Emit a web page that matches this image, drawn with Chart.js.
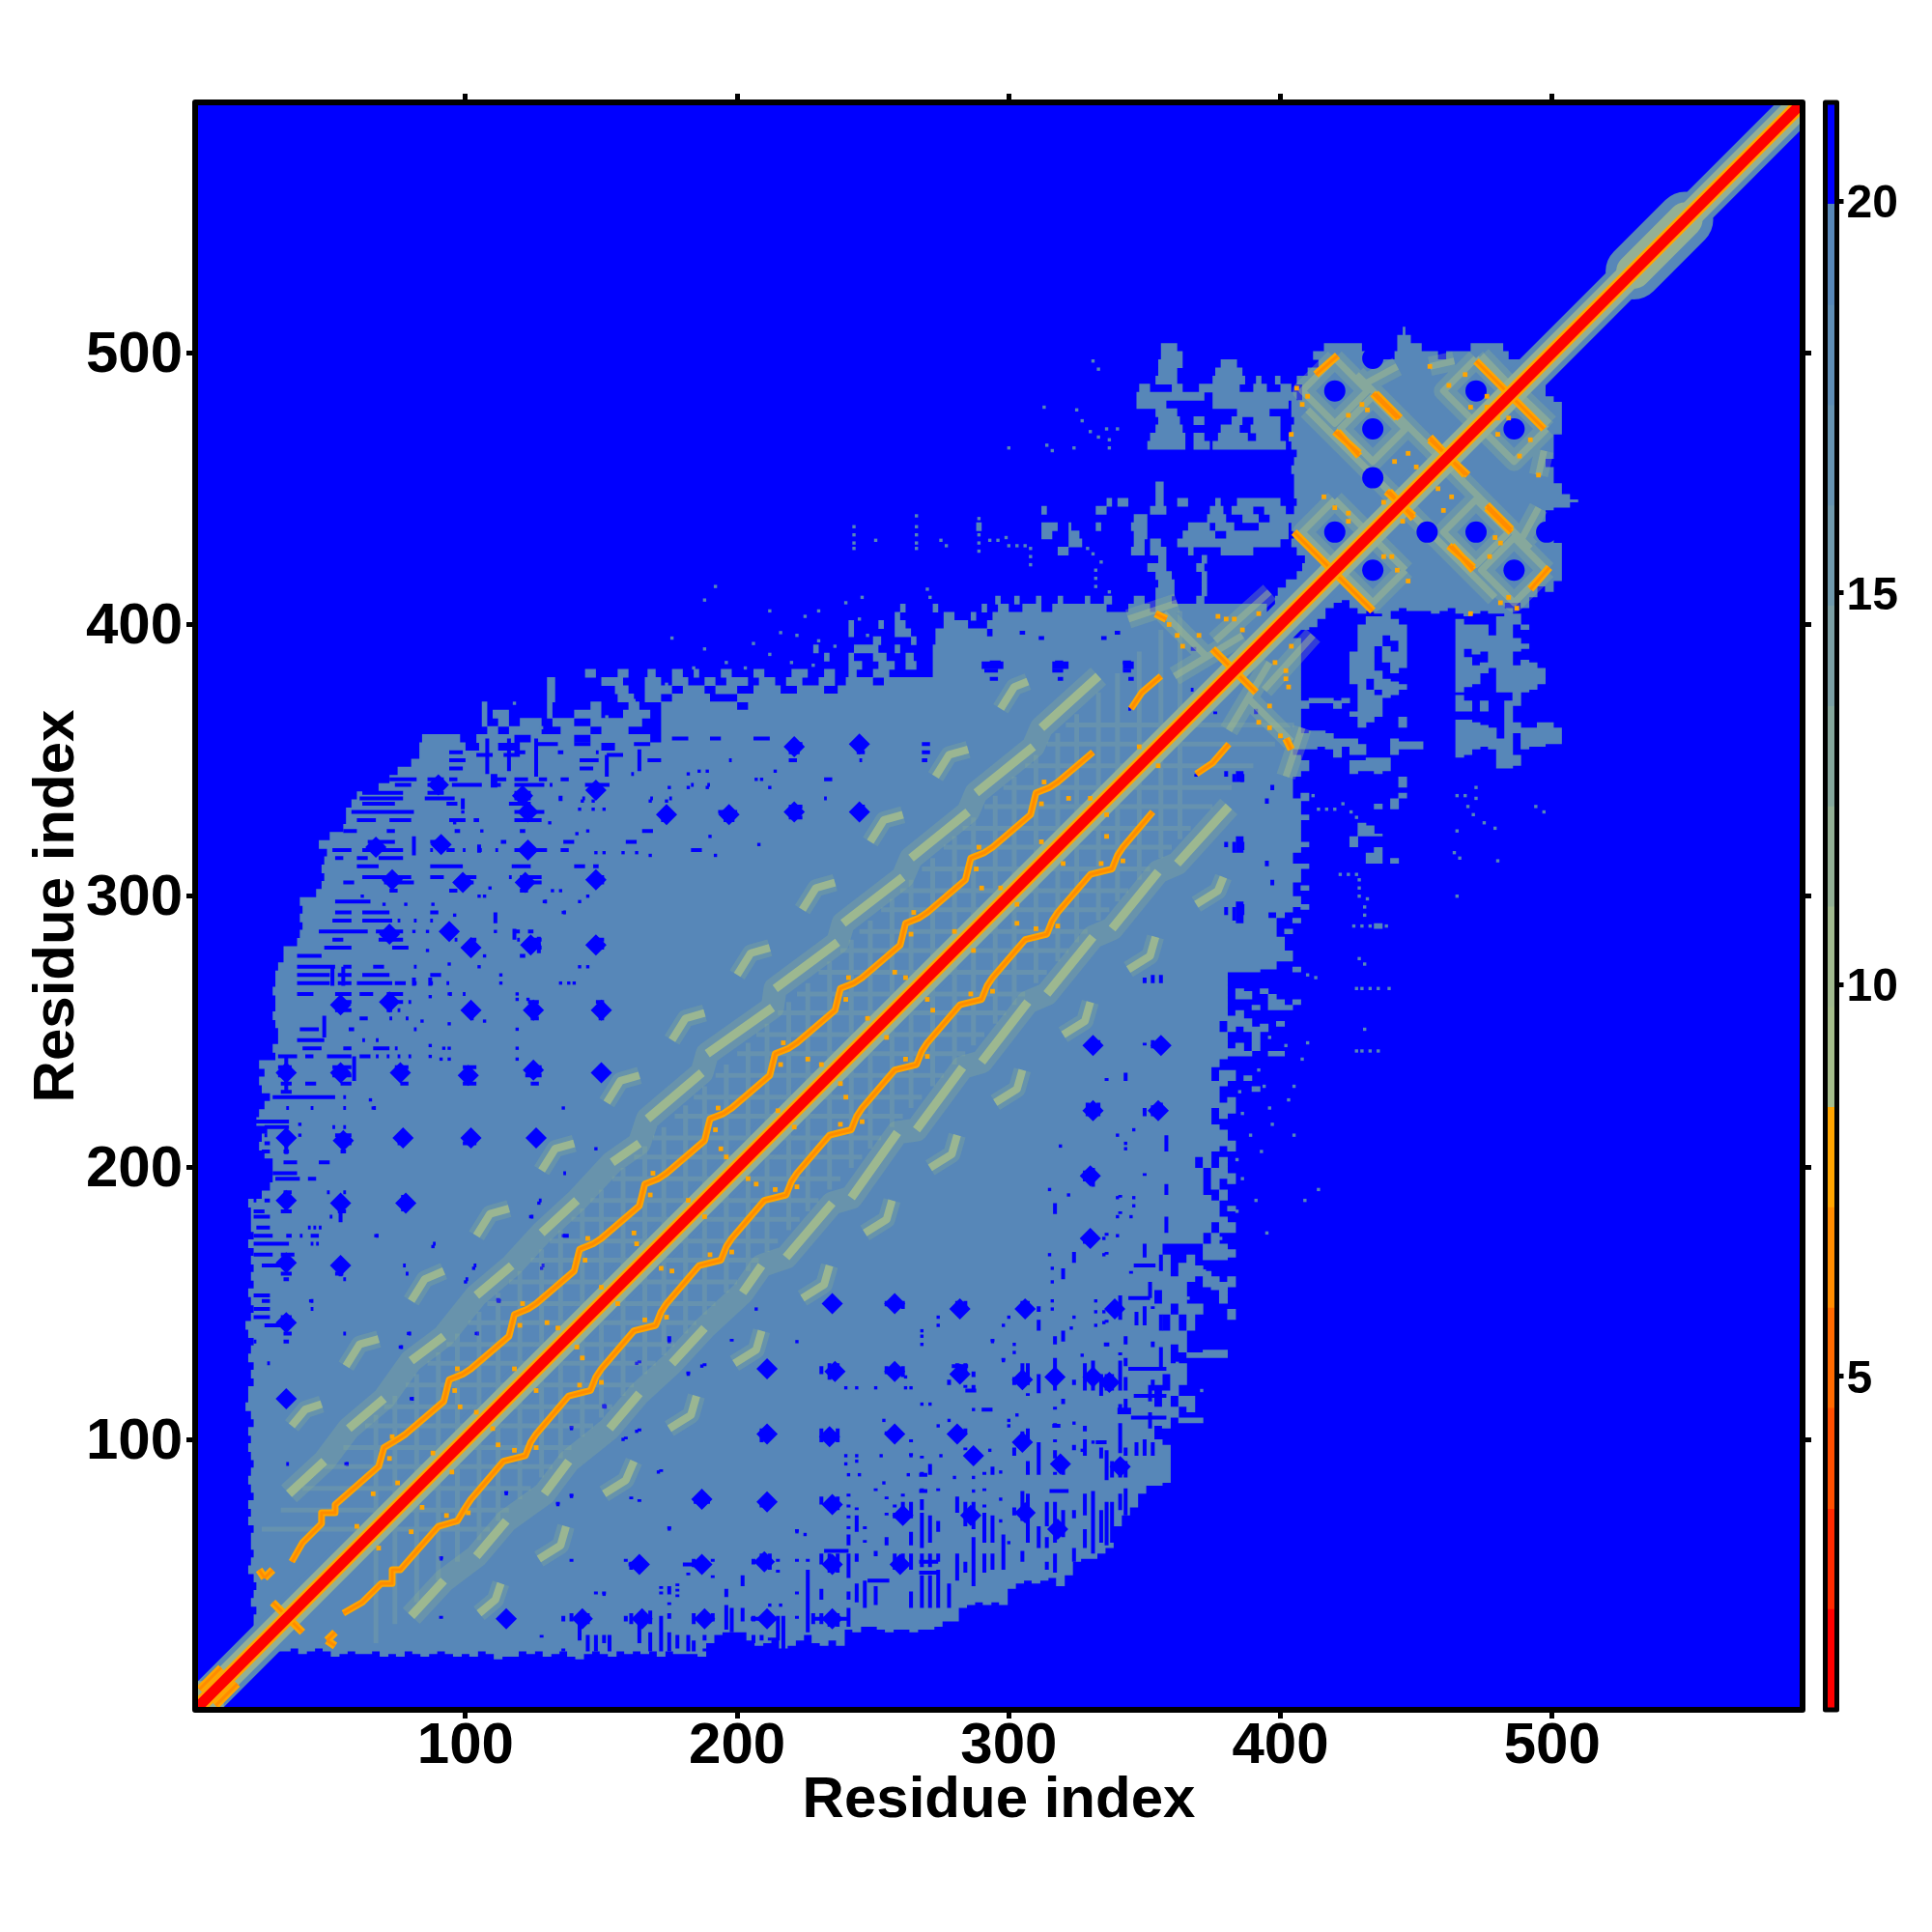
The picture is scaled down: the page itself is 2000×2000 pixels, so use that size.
<!DOCTYPE html>
<html>
<head>
<meta charset="utf-8">
<script src="https://cdn.jsdelivr.net/npm/chart.js@4"></script>
<style>
  html, body { margin: 0; padding: 0; background: #fff; }
  #wrap { position: relative; width: 2000px; height: 2000px; }
  #map { position: absolute; left: 0; top: 0; }
  #bar { position: absolute; left: 1880px; top: 0; }
</style>
</head>
<body>
<div id="wrap">
  <canvas id="map" width="2000" height="2000"></canvas>
  <canvas id="bar" width="120" height="2000"></canvas>
</div>
<script>
// ticks
const residueTicks = [100, 200, 300, 400, 500];
const levelTicks = [5, 10, 15, 20];

// colour key: distance levels
const levelBreaks = [0.74, 2.02, 3.30, 4.59, 5.87, 7.15, 8.43, 9.71, 10.99, 12.27, 13.55, 14.83, 16.11, 17.39, 18.67, 19.96, 21.26];
const levelColors = ["#ff0000", "#ff2a00", "#ff4f00", "#ff6a00", "#ff8c00", "#ffa500", "#a5bd8b", "#a1ba8f", "#93b095", "#85a79c",
    "#7b9fa4", "#6f99ac", "#6693b1", "#5e8db5", "#5787b8", "#0000ff"];

// main diagonal
const diagonal = [1, 100, 200, 300, 400, 500, 592];
// wider patch of the diagonal near the C terminus
const lensFrom = [530, 530], lensTo = [549, 549];
// block in the corner at the N terminus: [y, x1, x2]
const cornerRows = [[6, 2, 11]];

// steel rows, upper left half only (map is symmetric): [y, x1, x2, x1, x2 ...]
const steelRows = [
    [22,22,22],[25,22,25],[28,23,28],[31,22,31],[34,22,34],[37,23,37],[40,21,40],[43,22,43],[46,23,46],[49,22,49],
    [52,20,52],[55,21,55],[58,22,58],[61,21,61],[64,21,64],[67,22,67],[70,20,70],[73,21,73],[76,20,76],[79,22,79],
    [82,21,82],[85,20,85],[88,21,88],[91,22,91],[94,21,94],[97,20,97],[100,21,100],[103,20,103],[106,22,106],[109,21,109],
    [112,19,112],[115,20,115],[118,20,118],[121,22,121],[124,21,124],[127,22,127],[130,20,130],[133,21,133],[136,22,136],[139,20,139],
    [142,19,142],[145,21,145],[148,22,148],[151,21,151],[154,20,154],[157,22,157],[160,21,160],[163,22,163],[166,21,166],[169,22,169],
    [172,20,172],[175,22,175],[178,21,178],[181,21,181],[184,21,184],[187,20,187],[190,25,190],[193,28,193],[196,29,196],[199,29,199],
    [202,29,202],[205,26,205],[208,24,208],[211,25,211],[214,27,214],[217,23,217],[220,24,220],[223,26,223],[226,28,226],[229,25,229],
    [232,24,232],[235,26,235],[238,24,238],[241,30,241],[244,29,244],[247,31,247],[250,31,250],[253,30,253],[256,29,256],[259,30,259],
    [262,30,262],[265,29,265],[268,30,268],[271,30,271],[274,31,274],[277,33,277],[280,33,280],[283,38,283],[286,39,286],[289,40,289],
    [292,39,292],[295,40,295],[298,39,298],[301,45,301],[304,47,304],[307,48,307],[310,47,310],[313,48,313],[316,49,316],[319,46,319],
    [322,50,322],[325,55,325],[328,56,328],[331,56,331],[334,58,334],[337,60,337],[340,68,340],[343,72,343],[346,75,346],[349,80,349],
    [352,83,352],[355,83,100,105,112,120,150,155,355],
    [358,84,98,104,118,124,140,146,168,172,358],
    [361,108,112,116,128,135,146,150,160,172,361],
    [364,106,108,112,116,120,128,132,140,146,165,172,364],
    [367,106,108,110,116,130,132,140,150,158,168,172,367],
    [370,106,108,130,132,146,150,160,164,172,200,204,370],
    [373,130,133,156,162,166,172,176,190,200,373],
    [376,130,133,155,160,166,176,180,188,192,200,206,216,222,232,237,376],
    [379,130,133,150,158,166,172,176,182,188,192,196,204,208,214,218,224,230,236,240,250,254,379],
    [382,144,148,156,160,167,170,176,180,184,186,194,198,206,210,220,226,232,236,241,244,250,256,272,382],
    [385,241,246,252,258,262,266,272,290,298,316,322,342,346,385],
    [388,232,234,241,243,250,255,262,265,272,388],
    [391,228,230,243,252,258,260,272,391],
    [394,250,253,264,266,273,394],
    [397,241,243,258,264,273,292,294,397],
    [400,241,243,252,254,258,262,276,285,292,400],
    [403,258,260,276,280,286,288,294,403],
    [406,260,262,272,274,290,292,296,300,305,312,316,336,344,352,354,395,398,406],
    [409,295,297,302,304,310,312,318,320,328,330,335,338,346,350,354,360,369,372,398,409],
    [412,354,361,371,373,399,412],
    [415,355,361,371,373,402,415],
    [418,354,360,371,373,406,418],
    [421,351,358,369,372,408,421],
    [424,355,358,371,373,409,424],
    [427,318,322,345,350,352,358,366,368,378,390,406,427],
    [430,322,327,346,350,352,356,362,400,404,430],
    [433,312,316,322,326,346,351,364,376,380,403,405,433],
    [436,288,290,312,318,322,323,332,334,345,351,366,374,376,383,392,403,404,436],
    [439,346,351,373,380,386,392,396,405,405,439],
    [442,312,314,332,336,352,358,374,379,382,390,394,402,405,442],
    [445,336,338,340,344,354,357,362,366,376,378,384,400,406,445],
    [448,354,357,405,448],[451,354,357,405,451],[454,405,454],[457,404,457],[460,405,460],[463,406,463],
    [466,351,365,368,374,375,402,404,466],
    [469,352,365,368,372,377,388,391,400,403,469],
    [472,354,364,378,385,389,400,404,472],
    [475,355,363,368,372,382,386,390,400,405,475],
    [478,354,362,384,396,404,478],
    [481,347,358,375,403,404,481],
    [484,347,372,375,406,408,484],
    [487,348,352,360,364,370,385,390,395,400,404,408,487],
    [490,354,362,375,387,391,393,398,400,406,490],
    [493,355,362,376,386,410,493],
    [496,355,364,378,384,414,488,490,496],
    [499,356,364,412,435,442,458,461,484,492,499],
    [502,356,362,416,430,443,452,470,482,496,502],
    [505,443,448,500,505],
    [508,445,446]
];
// single steel cells out in the blue, x,y pairs
const steelSpecks = [331,497, 333,494, 313,480, 325,479, 327,475, 330,471, 333,469, 336,472, 340,472, 337,465, 337,468, 314,466, 316,464, 324,465, 300,465,
    243,436, 243,433, 243,430, 243,428, 266,440, 266,436, 266,433, 266,430, 266,428, 251,431, 275,431, 277,429, 289,439, 289,436, 289,433, 289,430, 289,427,
    293,431, 296,431, 299,432, 300,429, 303,429, 306,429, 308,428, 308,425, 308,422, 331,426, 329,428, 332,420, 332,417, 332,414, 334,423, 337,412,
    212,405, 225,403, 230,405, 240,408, 245,402, 192,414, 188,409, 216,397, 222,396, 230,394, 236,392, 246,410, 248,396, 270,413, 271,410, 273,407,
    176,395, 188,391, 206,393, 212,389, 220,386, 196,386, 203,384, 228,385, 184,384, 174,378, 162,372, 152,366, 118,371, 128,362];

// blue gaps inside the steel area: [y, x1, x2, ...]
const gapRows = [
    [343,72,82,86,92,94,97,111,115,118,123,127,130,135,138],
    [341,74,80,86,93,100,106,111,113,118,129,131,132,147,149,95,106,144,153,183,184,189,190],
    [338,62,77,86,92,118,124],[336,61,77,85,96,118,124,143,144,168,169,175,176,232,233],
    [334,62,74,93,97,116,124],[331,58,81,118,129,172,176,193,200],[328,60,67,72,80,94,100,103,105,118,128,172,174,195,199],
    [324,55,60,71,74,96,98,120,122,165,169],[320,64,74,87,92,113,115,136,140,159,163],
    [317,51,58,62,77,87,88,93,96,99,100,105,106,111,112,118,130,135,138,183,187],[314,52,55,60,64,68,77],
    [311,60,68,87,99,117,124,140,144,147,149],[307,62,80,87,92,98,104,116,117,120,128,147,151],
    [305,55,59,70,81,96,103,120,128,146,151],[302,72,75,94,97,120,123],[298,52,65,129,130],
    [294,52,58,62,72,87,90,136,137],[291,51,58,62,73,75,76,81,82,87,88],[287,46,64,67,77,92,97,118,120,123,125],
    [284,51,55,68,77,96,97,102,104,119,120,124,128,147,151],[281,48,58,73,79,99,104,123,128,147,151],
    [278,38,47,120,122],[274,38,52,55,58,66,70,81,82],[271,38,50,53,58,62,72,87,91],
    [268,38,50,53,58,60,73,74,78,81,82,87,88,93,94],[264,38,44,52,58,61,66,71,77,94,95,99,100],
    [261,52,58,71,77,79,80,123,127,148,151],[258,52,58,71,73,75,76,100,104,123,127,148,151],
    [255,61,64,72,73,78,79,102,103,124,127,149,151],[251,39,46,57,59,81,82],[247,38,48,62,63,67,68],
    [244,40,47,55,58,66,72,74,75],[241,31,38,41,44,49,58,61,65,67,68,71,72,75,76,79,80],
    [237,31,36,51,58,74,79,99,104,123,128,149,151],[234,31,36,51,58,74,78,98,104,122,128],
    [231,32,36,41,45,54,58,76,79,99,104,124,127],[228,32,36],[226,29,52,55,56],[222,34,35,43,44,55,56,66,67],
    [217,22,35],[215,26,35,51,52,55,56],[212,26,27,32,36,52,58,75,79,100,104,125,127],
    [209,26,28,33,35,54,58,75,78,99,104,126,127],[206,25,28,33,35,54,56],
    [202,33,38,46,50],[198,29,38,136,137],[196,30,39,42,45],[191,33,36,49,50,55,56],
    [188,22,23,26,28,32,36,53,56,76,80,127,128],[184,22,26,32,36,53,56],[182,22,28,50,51,124,125],
    [178,23,28,42,43,44,45,46,47],[175,22,29,34,36,39,40,43,46,67,68,136,138],[172,22,35,43,44,45,46,88,89],
    [168,22,29,32,37],[164,25,36,51,56,77,78,103,104,128,129],[161,32,36,52,55,78,79],[159,33,35,55,56,100,101],
    [153,22,28],[151,25,28,43,44,112,113],[148,22,28,43,44],[145,22,28,32,36],[142,26,36],[139,33,36,55,56,79,80,104,105],
    [136,22,23,33,35],[134,76,77],[128,27,28],[115,32,36,80,81],[112,151,152],[91,34,35,56,57],
    [353,94,99,118,122,134,136,148,149],[350,94,100,142,149,167,172,197,198],[347,94,99,142,147],[345,161,162],
    [397,339,341,304,306],[395,334,336,311,313],[391,367,369],[376,367,368],[369,344,345],
    [386,293,297,317,320,342,345],[383,291,296,316,320,342,345],[380,293,296,318,320,344,346],
    [356,220,224,244,248,268,271],[353,219,223,244,247,268,271],[350,219,222,245,246,268,270],
    [333,219,224,244,247],[329,219,224,195,198],[343,232,235],
    [356,126,134,140,146,162,168],[352,104,110,114,120,152,158],[358,176,182,190,194,206,212]
];
// vertical gaps, [x, y1, y2, ...]
const gapColumns = [[81,315,322,267,270],[105,316,319],[111,290,294,340,345],[118,284,288],[127,279,285],[99,332,336],[135,335,337],[87,267,270],
    [48,248,256],[51,267,274],[55,267,274],[59,232,241],[110,340,345],[34,228,241],[34,140,146],[34,205,212],[54,180,190],[54,160,166],[77,184,190],
    [108,345,358],[116,346,358],[126,344,358],[152,344,352],[164,346,354]];
// single gap cells, x,y pairs
const gapSpecks = [62,300, 70,297, 78,297, 88,297, 96,293, 111,287, 129,298, 136,294, 142,298, 145,300, 132,302, 135,302, 109,303, 105,300, 107,300,
    81,287, 86,287, 86,280, 107,278, 94,275, 105,274, 142,274, 145,274, 113,271, 113,268, 135,268, 138,268, 140,268, 87,263, 94,264, 119,264, 119,262, 123,262,
    107,254, 94,253, 84,254, 119,251, 87,245, 92,244, 94,244, 119,244, 87,241, 91,240, 94,240, 119,240, 65,225, 66,222, 136,222, 39,216, 39,212, 148,207,
    175,340, 182,345, 189,346, 186,346, 207,343, 209,343, 212,340, 214,346, 189,340, 182,340, 168,335, 174,335, 208,319, 190,322, 192,315, 168,315, 163,316, 158,316,
    148,316, 151,316, 141,323, 145,324, 131,327, 106,324, 96,327, 99,331, 151,332, 147,332, 142,332, 143,335, 135,336, 147,335,
    67,175, 88,171, 103,163, 100,158, 128,163, 136,175, 127,187, 124,182, 43,151, 56,91, 79,139, 76,134, 104,139, 112,151, 80,115, 151,112];
// bigger round gaps of the repeating lattice
const latticeGapsX = [34,54,76,101,125,150,77,102,126,55,34,54,72,102,125,150,72,94,102,124,148,73,99,122,148,67,91,123,90,121,148,221,245,221,197,174,245,123,34,34,54,54,78,34,34];
const latticeGapsY = [235,235,235,234,236,235,211,211,211,210,211,260,261,258,258,258,286,287,281,282,282,306,305,305,306,318,319,317,341,337,339,331,356,355,330,330,331,331,188,165,187,164,187,143,115];

// pale lattice lines around the diagonal, centre residue of each
const latticeLines = [67,74,82,90,97,105,112,120,128,135,143,150,158,166,173,181,188,196,204,211,219,226,234,242,249,257,264,272,280,287,295,302,310,318,325,333,340,348,356,363];
const latticeReach = 42;

// pale green ridges, polylines of x,y pairs, null breaks the line
const ridgeNear = [35,80, 48,92, null, 57,104, 70,115, null, 80,129, 92,138, null, 104,153, 117,164, null, 128,176, 141,188, null,
    154,202, 164,209, null, 167,218, 187,235, null, 189,242, 213,259, null, 214,266, 237,283, null, 239,290, 261,307, null,
    264,314, 285,331, null, 288,338, 309,355, null, 312,362, 333,381];
const ridgeHooks = [36,105, 41,111, 47,113, null, 56,127, 61,135, 68,137, null, 80,151, 85,159, 92,162, null, 104,175, 109,183, 116,185, null,
    128,199, 133,207, 140,209, null, 152,224, 157,232, 164,234, null, 176,247, 181,255, 188,257, null, 200,271, 205,279, 212,281, null,
    224,295, 229,303, 236,305, null, 249,320, 254,328, 261,330, null, 273,344, 278,352, 285,354, null, 297,369, 302,377, 307,379];
// pale rings round the gaps of the end domain, and the crosses between them
const ridgeCluster = [434,484, 446,472, 434,460, 422,472, 434,484, null, 420,498, 432,486, 420,474, 408,486, 420,498, null,
    472,498, 484,486, 472,474, 460,486, 472,498, null, 420,446, 432,434, 420,422, 408,434, 420,446, null,
    410,479, 449,440, null, 428,492, 468,452, null, 430,488, 443,495, null, 455,495, 464,497, null, 474,499, 498,474, null,
    357,404, 373,388, null, 361,381, 386,396, null, 344,402, 362,408, null, 376,394, 396,412];

// orange contacts
const sheetLine = [36,55, 40,62, 47,69, 47,73, 52,73, 52,76, 68,90, 70,97, 75,100, 78,102, 92,114, 94,122, 99,124,
    102,126, 116,138, 118,146, 123,148, 126,150, 140,162, 142,170, 147,172, 150,174, 164,186, 166,194, 171,196,
    174,198, 188,210, 190,218, 195,220, 198,222, 212,234, 214,242, 219,244, 222,246, 236,258, 238,266, 243,268,
    246,270, 260,282, 262,290, 267,292, 270,294, 284,306, 286,314, 291,316, 294,318, 308,330, 310,338, 315,340,
    318,342, 331,353, null, 345,369, 349,375, 356,381];
const crossLines = [375,391, 390,376, null, 354,404, 358,402, null, 24,52, 26,49, null, 29,40, 40,29, null, 26,49, 29,52, null,
    413,492, 421,499, null, 434,485, 443,476, null, 420,471, 429,463, null, 455,469, 468,455, null, 439,449, 449,440, null,
    472,497, 497,472, null, 405,434, 432,407, null, 476,444, 485,435, null, 462,429, 471,421, null, 2,8, 10,16];
const contactDots = [359,400, 362,396, 364,392, 370,396, 377,403, 380,402, 383,402, 392,404, 386,398,
    60,68, 75,84, 88,95, 104,110, 118,126, 134,141, 150,156, 163,172, 182,188, 196,204, 215,221, 231,238, 248,255, 262,270, 280,287, 297,303, 312,320, 330,336, 348,355,
    66,80, 98,112, 130,143, 162,176, 194,207, 226,240, 258,272, 290,303, 322,336,
    406,487, 408,481, 410,484, 404,470, 432,479, 425,477, 430,481, 416,447, 425,441, 442,460, 447,463, 450,458, 438,425, 443,420, 430,431, 438,445, 470,480, 476,484, 480,476, 488,462, 492,468, 495,455,
    // knots on the sheet line
    72,93, 73,101, 96,118, 97,126, 120,142, 121,150, 144,166, 145,174, 168,190, 169,198, 192,214, 193,222, 216,238, 217,246, 240,262, 241,270, 264,286, 265,294, 288,310, 289,318, 312,334, 313,342];

// large gaps (blue) of the end domain
const clusterGapsX = [420, 434, 472, 434, 420, 434];
const clusterGapsY = [486, 472, 486, 454, 434, 498];

// flat x,y list with nulls -> points, NaN makes a gap in the line
function toPoints(flat) {
    const out = [];
    for (let i = 0; i < flat.length; i++) {
        if (flat[i] === null) { out.push({ x: NaN, y: NaN }); continue; }
        out.push({ x: flat[i], y: flat[i + 1] });
        i++;
    }
    return out;
}
function rowsToPoints(rows) {
    const out = [];
    rows.forEach((r) => {
        for (let i = 1; i < r.length; i += 2) {
            out.push({ x: r[i], y: r[0] }, { x: r[i + 1], y: r[0] }, { x: NaN, y: NaN });
        }
    });
    return out;
}
function columnsToPoints(cols) {
    const out = [];
    cols.forEach((c) => {
        for (let i = 1; i < c.length; i += 2) {
            out.push({ x: c[0], y: c[i] }, { x: c[0], y: c[i + 1] }, { x: NaN, y: NaN });
        }
    });
    return out;
}
// the map is symmetric, everything is stored for one half only
const both = (pts) => pts.concat([{ x: NaN, y: NaN }], pts.map((p) => ({ x: p.y, y: p.x })));

function lineLayer(points, color, width, extra) {
    return Object.assign({
        data: points, showLine: true, pointRadius: 0, borderColor: color, borderWidth: width,
        borderCapStyle: "butt", borderJoinStyle: "round", tension: 0, spanGaps: false, clip: 0, fill: false,
    }, extra || {});
}
function dotLayer(points, color, radius, style) {
    return {
        data: points, showLine: false, pointRadius: radius, pointStyle: style, pointBackgroundColor: color,
        pointBorderWidth: 0, clip: 0,
    };
}

const diagPts = diagonal.map((d) => ({ x: d, y: d }));
const lensPts = [{ x: lensFrom[0], y: lensFrom[1] }, { x: lensTo[0], y: lensTo[1] }];
const latticePts = rowsToPoints(latticeLines.map((c) => [c, c - latticeReach, c + latticeReach]));
const ridgeNearHaze = ridgeNear.filter((v) => v !== null);

// bottom layer first, the list is reversed below because Chart.js paints index 0 last
const layers = [
    lineLayer(both(rowsToPoints(steelRows)), "#5787b8", 9),
    dotLayer(both(toPoints(steelSpecks)), "#5787b8", 2.4, "rect"),
    lineLayer(diagPts, "#5787b8", 38),
    lineLayer(both(rowsToPoints(cornerRows)), "#8aab9c", 26),
    lineLayer(lensPts, "#5787b8", 58, { borderCapStyle: "round" }),
    lineLayer(both(rowsToPoints(gapRows)), "#0000ff", 4),
    lineLayer(both(columnsToPoints(gapColumns)), "#0000ff", 4),
    dotLayer(both(toPoints(gapSpecks)), "#0000ff", 2.4, "rect"),
    dotLayer(both(latticeGapsX.map((x, i) => ({ x: x, y: latticeGapsY[i] }))), "#0000ff", 11, "rectRot"),
    lineLayer(both(latticePts), "rgba(163,188,141,0.2)", 5),
    lineLayer(both(toPoints(ridgeCluster)), "rgba(140,175,145,0.35)", 20),
    lineLayer(both(toPoints(ridgeCluster)), "rgba(163,188,141,0.5)", 7),
    dotLayer(both(clusterGapsX.map((x, i) => ({ x: x, y: clusterGapsY[i] }))), "#0000ff", 11, "circle"),
    lineLayer(both(toPoints(ridgeNearHaze)), "rgba(140,175,145,0.32)", 24),
    lineLayer(both(toPoints(ridgeNear)), "rgba(163,188,141,0.9)", 9),
    lineLayer(both(toPoints(ridgeHooks)), "rgba(140,175,145,0.3)", 18),
    lineLayer(both(toPoints(ridgeHooks)), "rgba(163,188,141,0.85)", 8),
    lineLayer(diagPts, "#93b095", 27),
    lineLayer(lensPts, "#93b095", 36, { borderCapStyle: "round" }),
    lineLayer(both(toPoints(sheetLine)), "#ffa500", 7),
    lineLayer(both(toPoints(crossLines)), "#ffa500", 8),
    dotLayer(both(toPoints(contactDots)), "#ffa500", 3.4, "rect"),
    lineLayer(both(toPoints(sheetLine)), "#ff8c00", 3),
    lineLayer(both(toPoints(crossLines)), "#ff8c00", 3),
    lineLayer(diagPts, "#ffa500", 16),
    lineLayer(diagPts, "#ff0000", 11),
].reverse();

const fontFamily = '"Liberation Sans", Arial, sans-serif';

// plot background and the heavy frame
const mapBackground = {
    id: "mapBackground",
    beforeDatasetsDraw(chart) {
        const a = chart.chartArea, ctx = chart.ctx;
        ctx.save();
        ctx.fillStyle = "#0000ff";
        ctx.fillRect(a.left, a.top, a.width, a.height);
        ctx.restore();
    },
};
const frame = {
    id: "frame",
    afterDraw(chart) {
        const a = chart.chartArea, ctx = chart.ctx;
        ctx.save();
        ctx.strokeStyle = "#000";
        ctx.lineWidth = 6;
        ctx.lineJoin = "round";
        ctx.strokeRect(a.left, a.top, a.width, a.height);
        ctx.restore();
    },
};

function setTicks(values) {
    return (scale) => { scale.ticks = values.map((v) => ({ value: v })); };
}
const tickGrid = { display: true, drawOnChartArea: false, drawTicks: true, tickLength: 9, tickWidth: 5, tickColor: "#000" };
const range = { min: 0.46, max: 592.2 };
const labelFont = { family: fontFamily, size: 60, weight: "bold" };

new Chart(document.getElementById("map").getContext("2d"), {
    type: "scatter",
    data: { datasets: layers },
    plugins: [mapBackground, frame],
    options: {
        responsive: false,
        devicePixelRatio: 1,
        animation: false,
        events: [],
        layout: { padding: 0 },
        plugins: { legend: { display: false }, tooltip: { enabled: false } },
        scales: {
            x: {
                type: "linear", position: "bottom", min: range.min, max: range.max,
                afterBuildTicks: setTicks(residueTicks),
                afterFit: (s) => { s.height = 230; },
                grid: tickGrid, border: { display: false },
                ticks: { color: "#000", font: labelFont, padding: -7, maxRotation: 0 },
                title: { display: true, text: "Residue index", color: "#000", font: labelFont, padding: { top: 0, bottom: 100 } },
            },
            y: {
                type: "linear", position: "left", min: range.min, max: range.max,
                afterBuildTicks: setTicks(residueTicks),
                afterFit: (s) => { s.width = 202; },
                grid: tickGrid, border: { display: false },
                ticks: { color: "#000", font: labelFont, padding: 4, labelOffset: 3 },
                title: { display: true, text: "Residue index", color: "#000", font: labelFont, padding: { top: 23, bottom: 0 } },
            },
            xTop: {
                type: "linear", position: "top", min: range.min, max: range.max,
                afterBuildTicks: setTicks(residueTicks),
                afterFit: (s) => { s.height = 106; },
                grid: tickGrid, border: { display: false },
                ticks: { display: false },
            },
            yRight: {
                type: "linear", position: "right", min: range.min, max: range.max,
                afterBuildTicks: setTicks(residueTicks),
                afterFit: (s) => { s.width = 134; },
                grid: tickGrid, border: { display: false },
                ticks: { display: false },
            },
        },
    },
});

// colour key
const barFrame = {
    id: "barFrame",
    afterDraw(chart) {
        const a = chart.chartArea, ctx = chart.ctx;
        ctx.save();
        ctx.strokeStyle = "#000";
        ctx.lineWidth = 5;
        ctx.lineJoin = "round";
        ctx.strokeRect(a.left, a.top, a.width, a.height);
        ctx.restore();
    },
};
new Chart(document.getElementById("bar").getContext("2d"), {
    type: "bar",
    data: {
        labels: ["key"],
        datasets: levelColors.map((c, i) => ({
            data: [[levelBreaks[i], levelBreaks[i + 1]]],
            backgroundColor: c, borderWidth: 0, barPercentage: 1, categoryPercentage: 1, grouped: false,
        })),
    },
    plugins: [barFrame],
    options: {
        responsive: false,
        devicePixelRatio: 1,
        animation: false,
        events: [],
        layout: { padding: { left: 9.5, top: 106, bottom: 230, right: 0 } },
        plugins: { legend: { display: false }, tooltip: { enabled: false } },
        scales: {
            x: { display: false },
            y: {
                position: "right", min: levelBreaks[0], max: levelBreaks[levelBreaks.length - 1],
                afterBuildTicks: setTicks(levelTicks),
                afterFit: (s) => { s.width = 98.5; },
                grid: { display: true, drawOnChartArea: false, drawTicks: true, tickLength: 7, tickWidth: 5, tickColor: "#000" },
                border: { display: false },
                ticks: { color: "#000", font: { family: fontFamily, size: 48, weight: "bold" }, padding: 3, labelOffset: 4 },
            },
        },
    },
});
</script>
</body>
</html>
